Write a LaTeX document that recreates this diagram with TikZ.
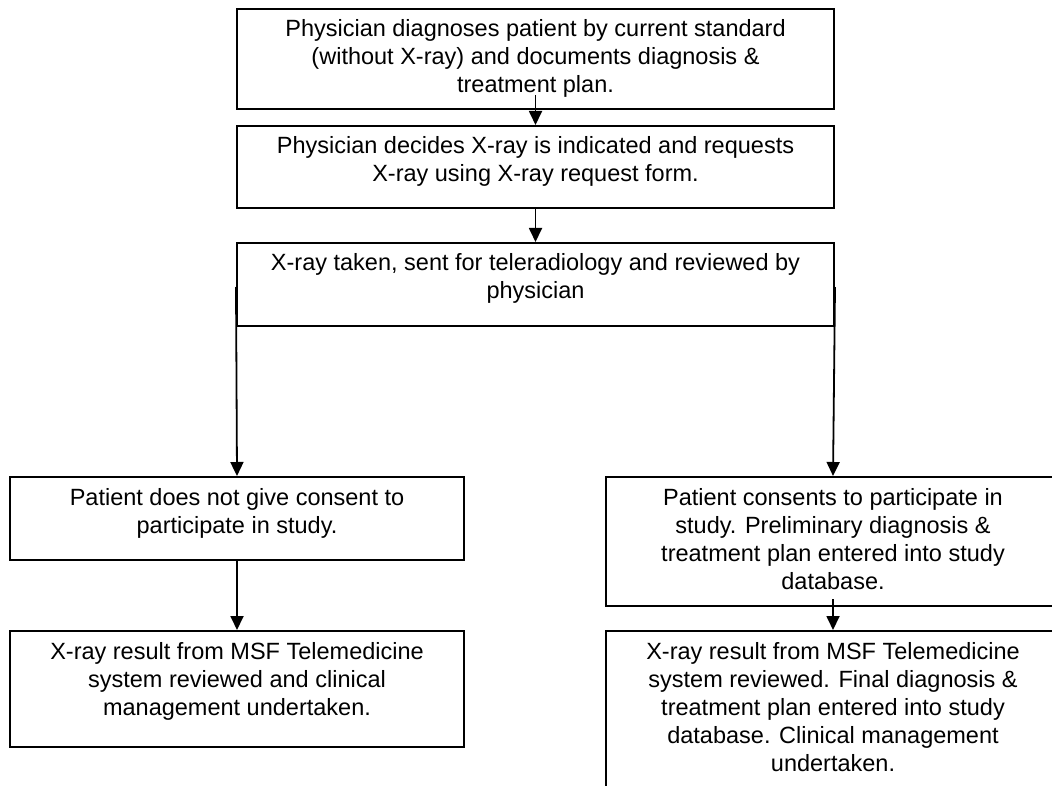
\documentclass[tikz,border=0pt]{standalone}
\usepackage{fontspec}
\setmainfont{Liberation Sans}
\usetikzlibrary{arrows.meta}
\newcommand{\bt}[3]{\begin{minipage}[t][#2][t]{#1}\centering\rule{0pt}{14pt}#3\end{minipage}}
\begin{document}
\begin{tikzpicture}[x=0.5pt,y=-0.5pt,
  box/.style={draw, line width=1pt, inner sep=0pt, anchor=north west,
    font=\fontsize{11.75pt}{14pt}\selectfont},
  arr/.style={line width=0.9pt, -{Triangle[length=7pt,width=6.5pt]}}]
\useasboundingbox (0,0) rectangle (1052,785);
\node[box] (b1) at (236,8) {\bt{298.5pt}{50pt}{Physician diagnoses patient by current standard\\(without X-ray) and documents diagnosis \&\\treatment plan.}};
\node[box] (b2) at (236,125) {\bt{298.5pt}{41pt}{Physician decides X-ray is indicated and requests\\X-ray using X-ray request form.}};
\node[box] (b3) at (236,242) {\bt{298.5pt}{41.5pt}{X-ray taken, sent for teleradiology and reviewed by\\physician}};
\node[box] (b4) at (9,476) {\bt{227pt}{41.5pt}{Patient does not give consent to\\participate in study.}};
\node[box] (b5) at (605,476) {\bt{227pt}{64.5pt}{Patient consents to participate in\\study. Preliminary diagnosis \&\\treatment plan entered into study\\database.}};
\node[box] (b6) at (9,630) {\bt{227pt}{58pt}{X-ray result from MSF Telemedicine\\system reviewed and clinical\\management undertaken.}};
\node[box] (b7) at (605,630) {\bt{227pt}{85pt}{X-ray result from MSF Telemedicine\\system reviewed. Final diagnosis \&\\treatment plan entered into study\\database. Clinical management\\undertaken.}};
\draw[arr] ([yshift=7.5pt]b1.south) -- (b2.north);
\draw[arr] (b2.south) -- (b3.north);
\draw[arr] ([yshift=20pt]b3.south west) -- (b4.north);
\draw[arr] ([yshift=20pt]b3.south east) -- (b5.north);
\draw[arr] (b4.south) -- (b6.north);
\draw[arr] ([yshift=4pt]b5.south) -- (b7.north);
\end{tikzpicture}
\end{document}
